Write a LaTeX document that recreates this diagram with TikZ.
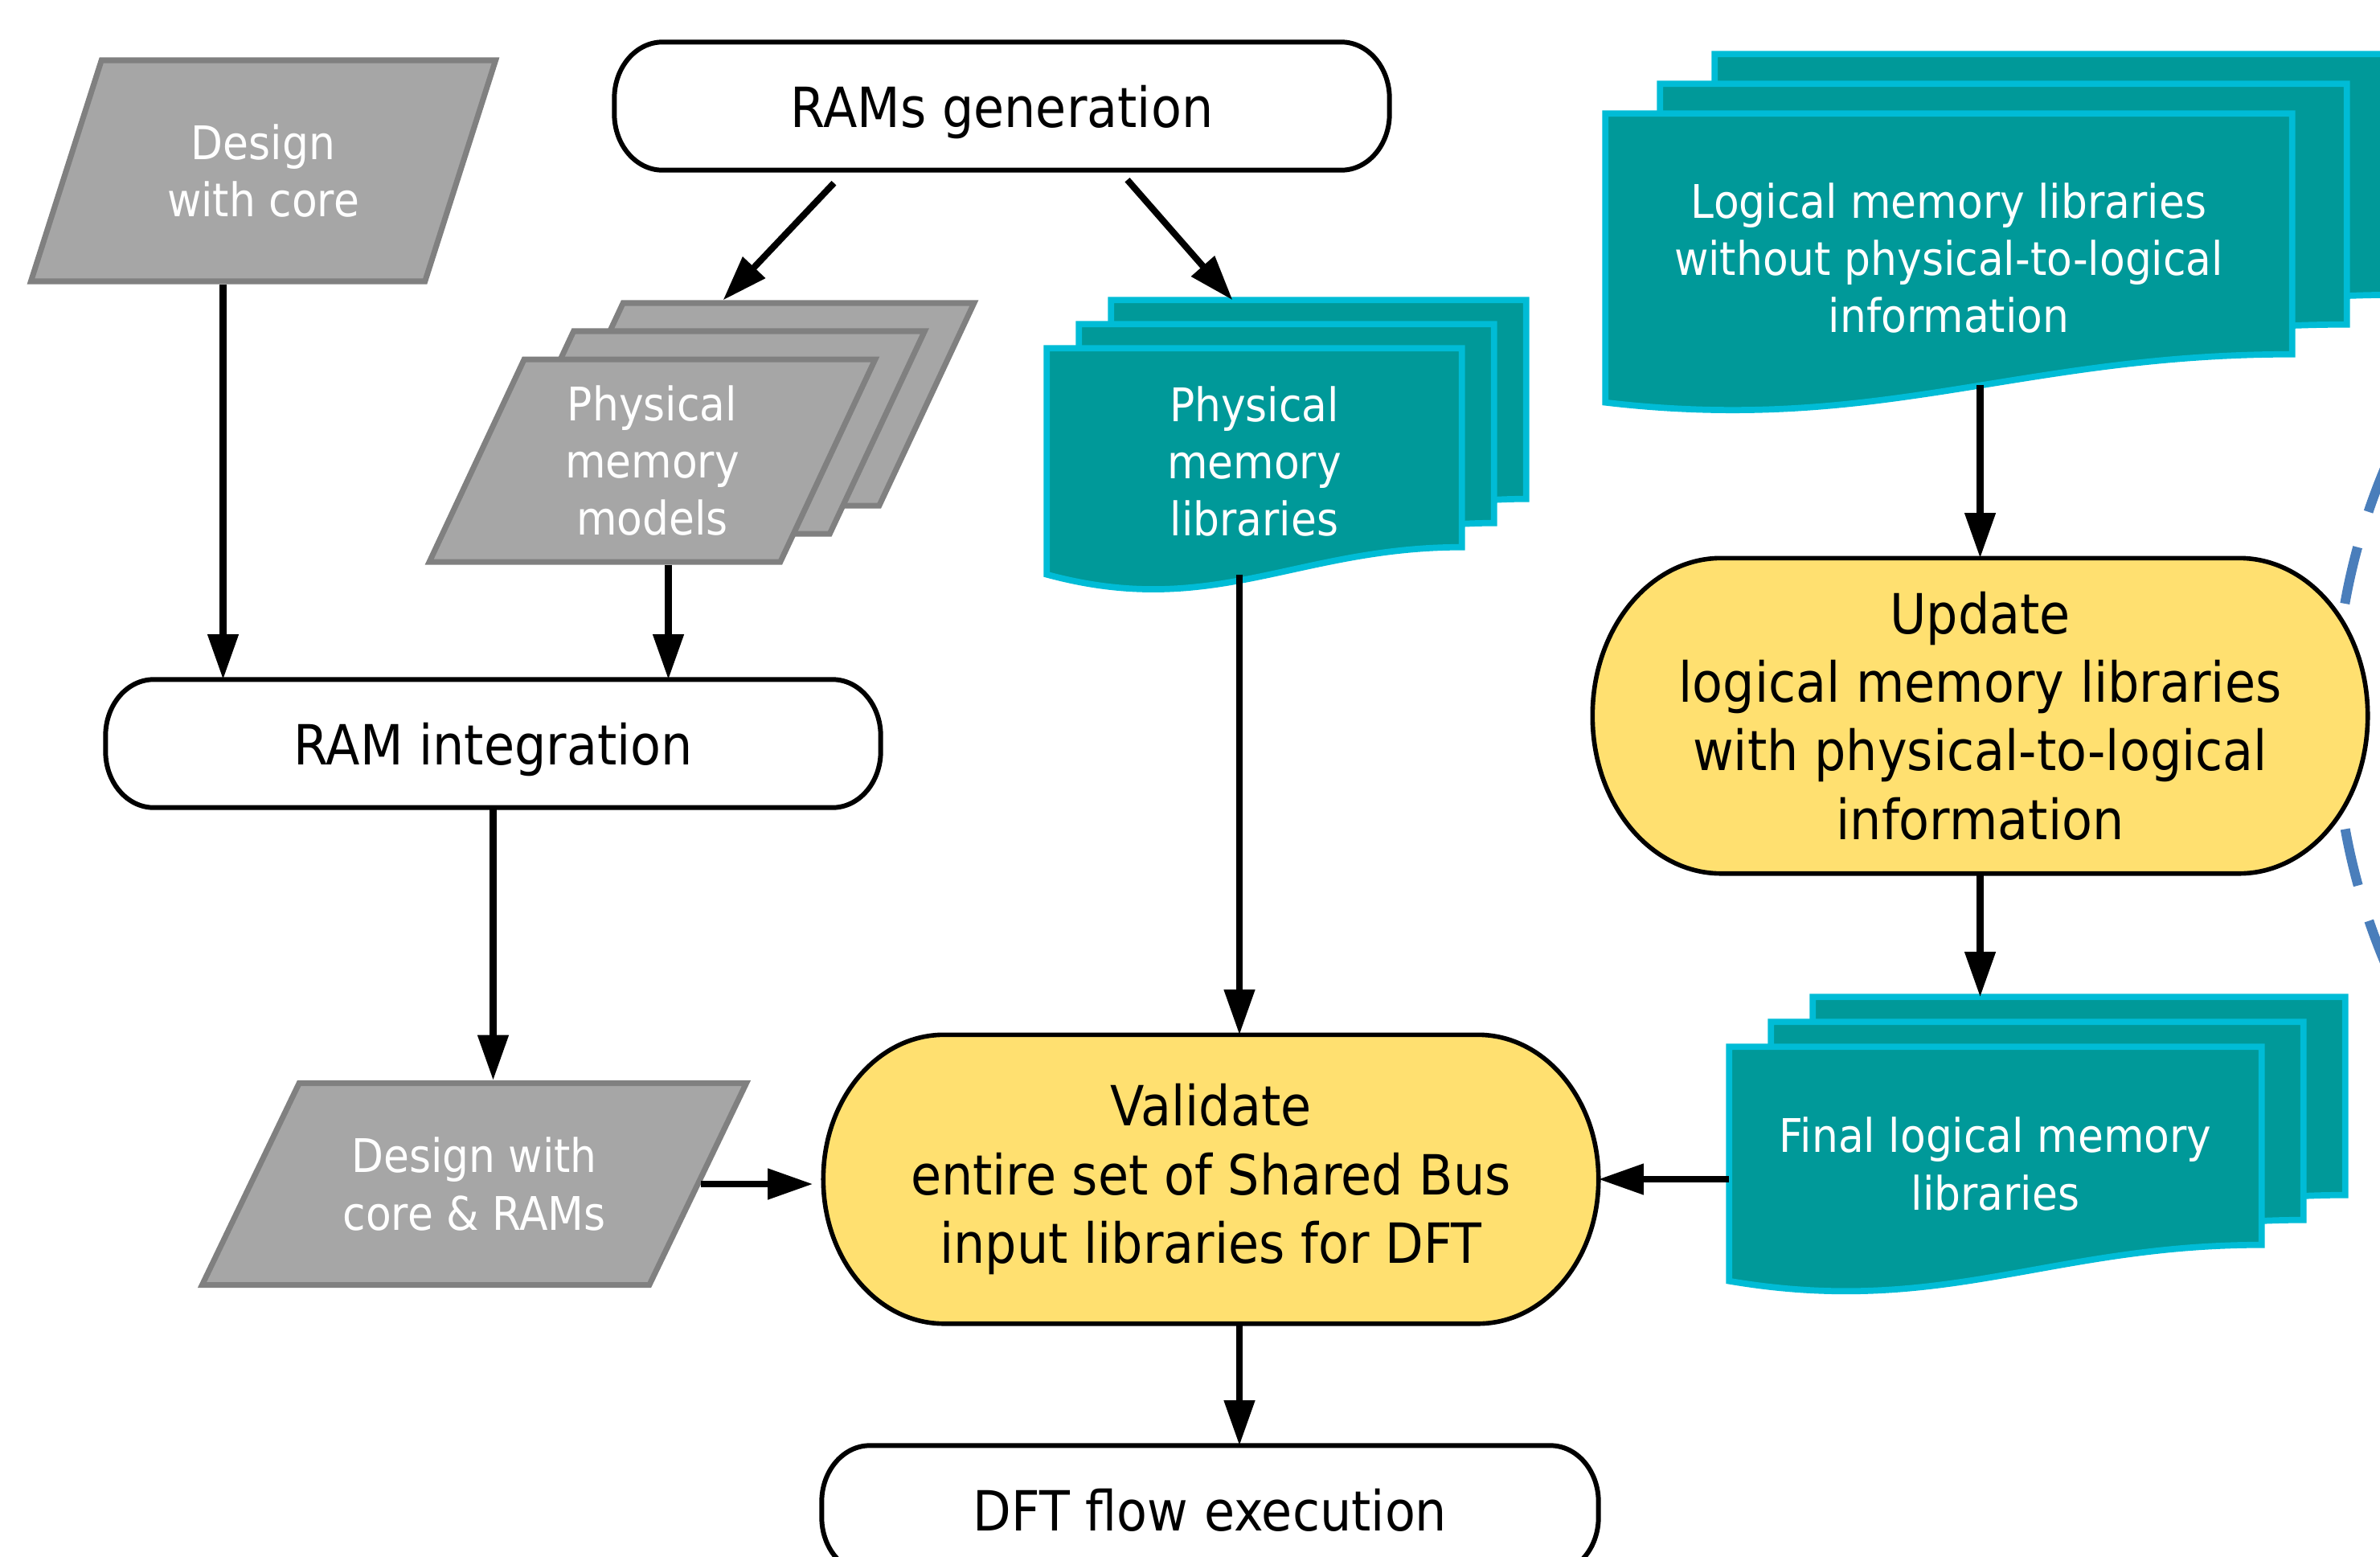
\documentclass[tikz,border=0pt]{standalone}
\usepackage{fontspec}
\setmainfont{DejaVu Sans}[FakeStretch=0.9]
\usetikzlibrary{shapes.geometric,arrows.meta,calc,backgrounds}

\definecolor{grayfill}{RGB}{166,166,166}
\definecolor{grayline}{RGB}{128,128,128}
\definecolor{tealfill}{RGB}{0,153,153}
\definecolor{tealline}{RGB}{0,188,214}
\definecolor{taskfill}{RGB}{255,224,112}
\definecolor{loopblue}{RGB}{74,126,187}

\newcommand\boxfont{\fontsize{19.6pt}{24.3pt}\selectfont}
\newcommand\datafont{\fontsize{16.4pt}{20.3pt}\selectfont}

% frame with elliptic corners round a node: name, x radius, y radius, style
\newcommand\termframe[4]{%
  \draw[#4] ([xshift=#2]#1.north west) -- ([xshift=-#2]#1.north east)
    arc[start angle=90, end angle=0, x radius=#2, y radius=#3]
    -- ([yshift=#3]#1.south east)
    arc[start angle=0, end angle=-90, x radius=#2, y radius=#3]
    -- ([xshift=#2]#1.south west)
    arc[start angle=270, end angle=180, x radius=#2, y radius=#3]
    -- ([yshift=-#3]#1.north west)
    arc[start angle=180, end angle=90, x radius=#2, y radius=#3]
    -- cycle;}

% document sheet with a wavy lower edge: name, rise of right corner, dip
\newcommand\docframe[3]{%
  \draw[docline] (#1.north west) -- (#1.north east) -- ([yshift=#2]#1.south east)
    .. controls ($(#1.south east)!0.4!(#1.south west)+(0,#2)$)
            and ($(#1.south east)!0.6!(#1.south west)+(0,#2-#3)$) .. (#1.south west)
    -- cycle;}

\tikzset{
  term/.style={rectangle, inner sep=0pt, minimum width=9.63cm, minimum height=1.58cm, text depth=0pt, font=\boxfont},
  task/.style={rectangle, inner sep=0pt, minimum width=9.63cm, font=\boxfont, align=center},
  data/.style={trapezium, trapezium stretches=true, trapezium left angle=67, trapezium right angle=113,
    draw=grayline, fill=grayfill, line width=2pt, inner sep=2pt, text=white, font=\datafont, align=center},
  doc/.style={rectangle, inner sep=0pt, text=white, font=\datafont, align=center},
  docline/.style={draw=tealline, fill=tealfill, line width=2.2pt},
  termline/.style={draw=black, fill=white, line width=1.7pt},
  taskline/.style={draw=black, fill=taskfill, line width=1.6pt},
  arr/.style={-{Triangle[length=16pt,width=10.5pt]}, line width=2.3pt},
}

\begin{document}
\begin{tikzpicture}
  \useasboundingbox (0,0) rectangle (29.61,-19.36);

  \node[data, minimum width=5.79cm, minimum height=2.75cm] (dwc) at (3.275,-2.125) {Design\\with core};
  \foreach \k in {2,1}
    \node[data, minimum width=5.55cm, minimum height=2.52cm] (pmm\k) at (8.115+0.615*\k,-5.73+0.35*\k)
      {\phantom{Physical}\\\phantom{memory}\\\phantom{models}};
  \node[data, minimum width=5.55cm, minimum height=2.52cm] (pmm) at (8.115,-5.73) {Physical\\memory\\models};
  \node[data, trapezium left angle=54, trapezium right angle=126, minimum width=6.78cm, minimum height=2.51cm]
    (dr) at (5.90,-14.73) {Design with\\core \& RAMs};

  \node[term] (ramgen) at (12.465,-1.32) {RAMs generation};
  \node[term] (ramint) at (6.135,-9.25) {RAM integration};
  \node[term, minimum width=9.65cm] (dft) at (15.055,-18.78) {DFT flow execution};
  \node[task, minimum height=3.58cm] (val) at (15.065,-14.67) {Validate\\entire set of Shared Bus\\input libraries for DFT};
  \node[task, minimum height=3.91cm] (upd) at (24.635,-8.905) {Update\\logical memory libraries\\with physical-to-logical\\information};

  \node[doc, minimum width=5.15cm, minimum height=2.8cm] (pml) at (15.605,-5.74) {Physical\\memory\\libraries};
  \foreach \k in {1,2}
    \node[doc, minimum width=5.15cm, minimum height=2.8cm] (pml\k) at (15.605+0.4*\k,-5.74+0.3*\k) {};
  \node[doc, minimum width=8.53cm, minimum height=3.58cm] (lml) at (24.245,-3.21)
    {Logical memory libraries\\without physical-to-logical\\information};
  \foreach \k in {1,2}
    \node[doc, minimum width=8.53cm, minimum height=3.58cm] (lml\k) at (24.245+0.68*\k,-3.21+0.37*\k) {};
  \node[doc, minimum width=6.61cm, minimum height=2.9cm] (fin) at (24.825,-14.48) {Final logical memory\\libraries};
  \foreach \k in {1,2}
    \node[doc, minimum width=6.61cm, minimum height=2.9cm] (fin\k) at (24.825+0.52*\k,-14.48+0.31*\k) {};

  \begin{scope}[on background layer]
    \coordinate (loopc) at (36.98,-8.9);
    \draw[loopblue, line width=3.4pt, dash pattern=on 0.72cm off 0.46cm, dash phase=0.326cm]
      (loopc) ++(150:7.93) arc[start angle=150, end angle=210, radius=7.93];
    \termframe{ramgen}{0.6cm}{0.7cm}{termline}
    \termframe{ramint}{0.6cm}{0.7cm}{termline}
    \termframe{dft}{0.6cm}{0.7cm}{termline}
    \termframe{val}{1.5cm}{1.79cm}{taskline}
    \termframe{upd}{1.6cm}{1.955cm}{taskline}
    \foreach \d/\a/\b in {pml/0.34cm/0.9cm, lml/0.6cm/1cm, fin/0.45cm/0.9cm} {
      \docframe{\d2}{\a}{\b}
      \docframe{\d1}{\a}{\b}
      \docframe{\d}{\a}{\b}
    }
  \end{scope}

  \draw[arr] ($(dwc.south)+(-0.5,0)$) -- ($(dwc.south |- ramint.north)+(-0.5,0)$);
  \draw[arr] ($(pmm.south)+(0.2,0)$) -- ($(pmm.south |- ramint.north)+(0.2,0)$);
  \draw[arr] ($(ramgen.south)+(-2.09,-0.16)$) -- ($(pmm2.north)+(-0.35,0)$);
  \draw[arr] ($(ramgen.south)+(1.56,-0.12)$) -- ($(pml2.north)+(-1.07,0)$);
  \draw[arr] ($(pml.south)+(-0.185,0)$) -- ($(pml.south |- val.north)+(-0.185,0)$);
  \draw[arr] (ramint.south) -- (ramint.south |- dr.north);
  \draw[arr, shorten >=0.13cm] (dr.east) -- (dr.east -| val.west);
  \draw[arr] (fin.west |- val.east) -- (val.east);
  \draw[arr] ($(val.south)+(0.355,0)$) -- ($(val.south |- dft.north)+(0.355,0)$);
  \draw[arr] ($(upd.north |- lml.south)+(0,0.22)$) -- (upd.north);
  \draw[arr] (upd.south) -- (upd.south |- fin2.north);
\end{tikzpicture}
\end{document}
